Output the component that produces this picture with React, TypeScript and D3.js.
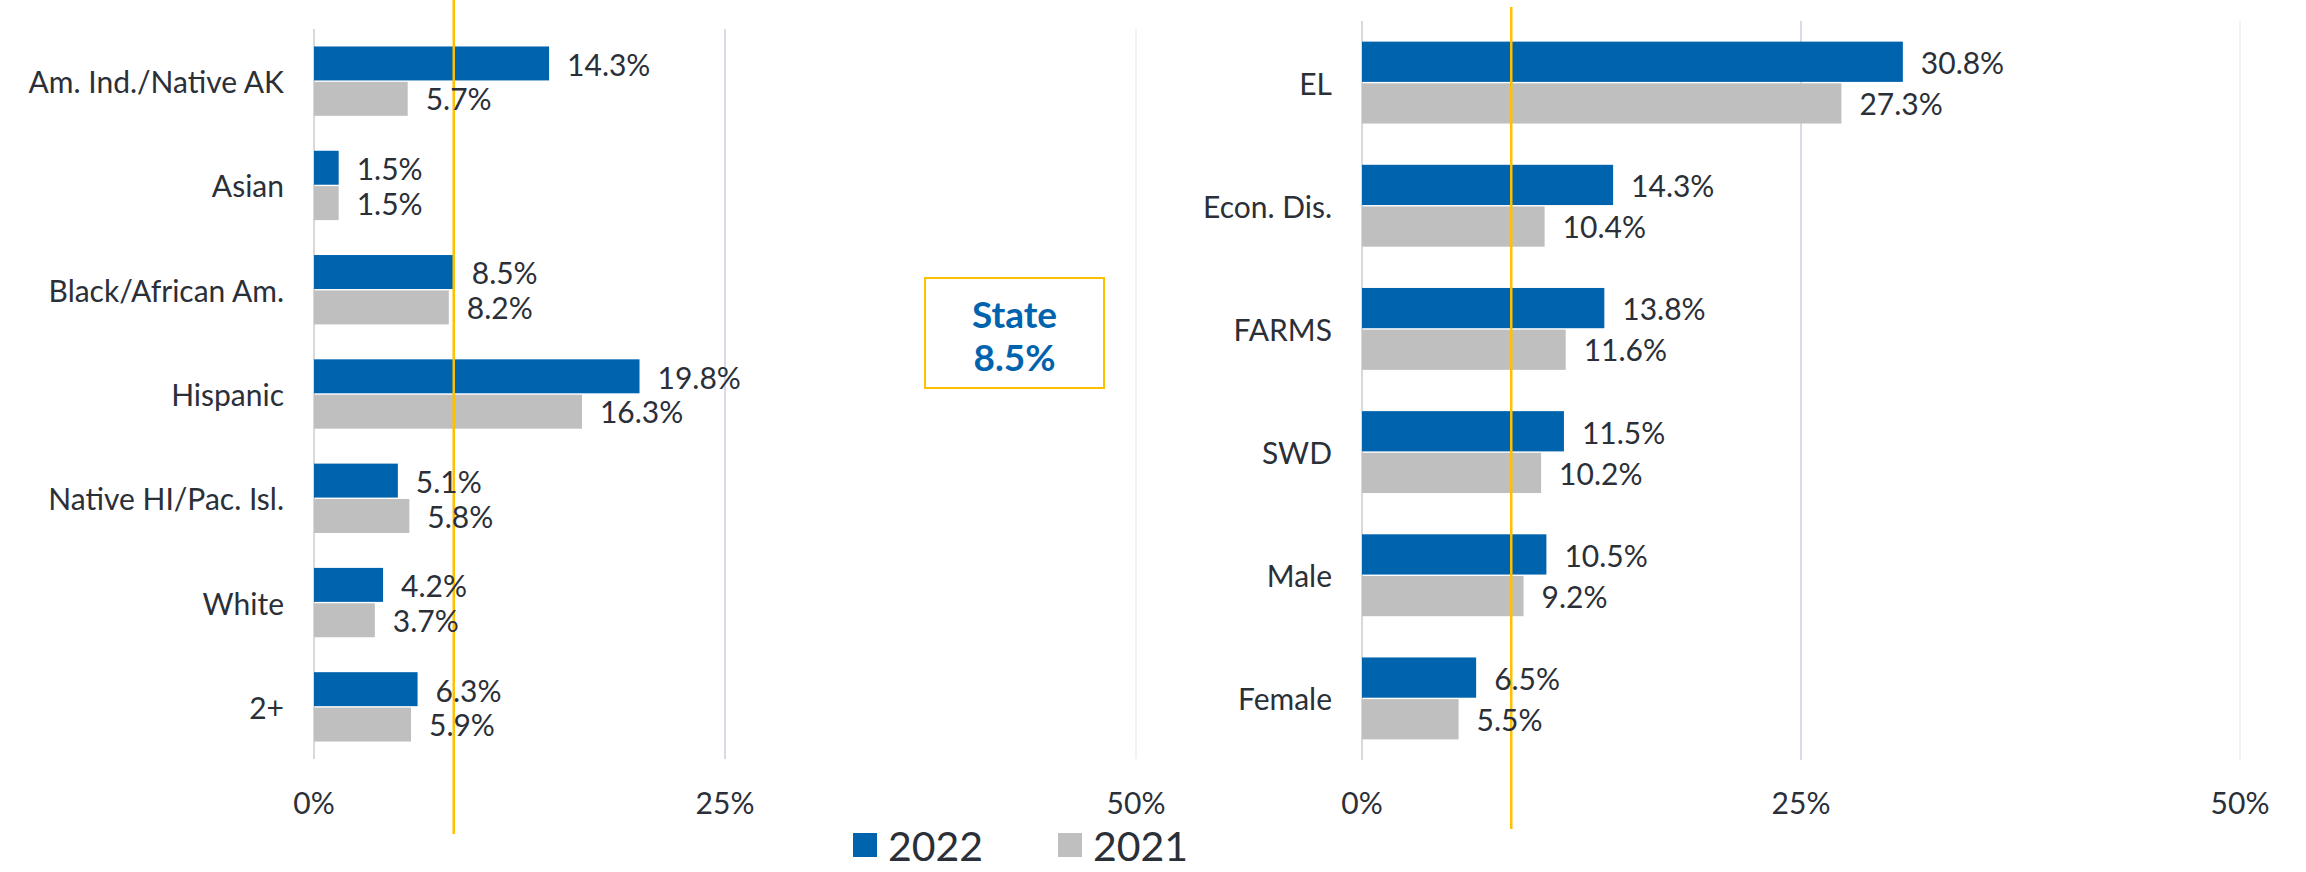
import React from 'react';
import * as d3 from 'd3';

const W = 2306;
const H = 872;

// race / ethnicity panel
const raceGroups = ['Am. Ind./Native AK', 'Asian', 'Black/African Am.', 'Hispanic', 'Native HI/Pac. Isl.', 'White', '2+'];
const race2022 = [14.3, 1.5, 8.5, 19.8, 5.1, 4.2, 6.3];
const race2021 = [5.7, 1.5, 8.2, 16.3, 5.8, 3.7, 5.9];

// student group panel
const studentGroups = ['EL', 'Econ. Dis.', 'FARMS', 'SWD', 'Male', 'Female'];
const student2022 = [30.8, 14.3, 13.8, 11.5, 10.5, 6.5];
const student2021 = [27.3, 10.4, 11.6, 10.2, 9.2, 5.5];

const xTicks = [0, 25, 50];
const years = ['2022', '2021'];
const stateRate = 8.5;

const BLUE = '#0063AE';
const GRAY = '#BFBFBF';
const GOLD = '#FFC000';
const TEXT = '#2B2F38';
const FONT = 'Lato, "Open Sans", sans-serif';

type PanelProps = {
  cats: string[];
  cur: number[];
  prev: number[];
  x0: number;
  x1: number;
  y0: number;
  y1: number;
  lineTop: number;
  lineBottom: number;
};

const Panel = ({ cats, cur, prev, x0, x1, y0, y1, lineTop, lineBottom }: PanelProps) => {
  const x = d3.scaleLinear().domain([0, 50]).range([x0, x1]);
  const y = d3.scaleBand().domain(cats).range([y0, y1]).paddingInner(0.335).paddingOuter(0.1675);
  const bh = y.bandwidth() / 2;
  const fmt = (v: number) => v.toFixed(1) + '%';
  return (
    <g>
      {xTicks.map((t) => (
        <g key={t}>
          <line
            x1={x(t)} x2={x(t)} y1={y0} y2={y1}
            stroke={t === 0 ? '#D9D9D9' : t === 25 ? '#D6DCE5' : '#F2F2F2'}
            strokeWidth={2}
          />
          <text x={x(t)} y={802} textAnchor="middle" dominantBaseline="central" fontSize={30} fill={TEXT}>
            {t}%
          </text>
        </g>
      ))}
      {cats.map((c, i) => {
        const top = y(c)!;
        return (
          <g key={c}>
            <text x={x0 - 30} y={top + bh} textAnchor="end" dominantBaseline="central" fontSize={30} fill={TEXT}>
              {c}
            </text>
            <rect x={x(0)} y={top} width={x(cur[i]) - x(0)} height={bh - 0.7} fill={BLUE} />
            <rect x={x(0)} y={top + bh + 0.7} width={x(prev[i]) - x(0)} height={bh - 0.7} fill={GRAY} />
          </g>
        );
      })}
      <line x1={x(stateRate)} x2={x(stateRate)} y1={lineTop} y2={lineBottom} stroke={GOLD} strokeWidth={2.5} />
      {cats.map((c, i) => {
        const top = y(c)!;
        return (
          <g key={c + '-lab'}>
            <text x={x(cur[i]) + 18} y={top + bh / 2} dominantBaseline="central" fontSize={30} fill={TEXT}>
              {fmt(cur[i])}
            </text>
            <text x={x(prev[i]) + 18} y={top + bh * 1.5} dominantBaseline="central" fontSize={30} fill={TEXT}>
              {fmt(prev[i])}
            </text>
          </g>
        );
      })}
    </g>
  );
};

const App = () => {
  const legendColors = [BLUE, GRAY];
  const legendX = d3.scalePoint().domain(years).range([853, 1058]);
  return (
    <div style={{ position: 'absolute', left: 0, top: 0 }}>
      <svg width={W} height={H} style={{ display: 'block', background: '#fff', fontFamily: FONT }}>
        <Panel cats={raceGroups} cur={race2022} prev={race2021} x0={314} x1={1136} y0={29} y1={759} lineTop={0} lineBottom={834} />
        <Panel cats={studentGroups} cur={student2022} prev={student2021} x0={1362} x1={2240} y0={21} y1={760} lineTop={7} lineBottom={829} />

        <rect x={925} y={278} width={179} height={110} fill="#fff" stroke={GOLD} strokeWidth={2} />
        <text x={1014.5} y={313} textAnchor="middle" dominantBaseline="central" fontSize={37} fontWeight="bold" fill={BLUE}>
          State
        </text>
        <text x={1014.5} y={356} textAnchor="middle" dominantBaseline="central" fontSize={37} fontWeight="bold" fill={BLUE}>
          {stateRate.toFixed(1)}%
        </text>

        {years.map((yr, i) => (
          <g key={yr}>
            <rect x={legendX(yr)!} y={833} width={24} height={24} fill={legendColors[i]} />
            <text x={legendX(yr)! + 35} y={845} dominantBaseline="central" fontSize={41} fill={TEXT}>
              {yr}
            </text>
          </g>
        ))}
      </svg>
    </div>
  );
};

export default App;
